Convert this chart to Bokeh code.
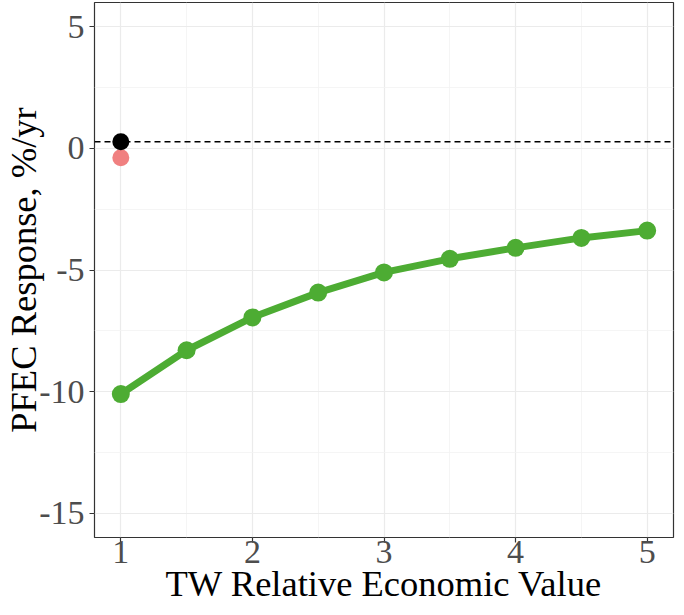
from bokeh.plotting import figure
from bokeh.models import FixedTicker, Span, Range1d
from bokeh.embed import file_html
from bokeh.resources import INLINE

# Data
tw_value = [1, 1.5, 2, 2.5, 3, 3.5, 4, 4.5, 5]
pfec_green = [-10.1, -8.3, -6.95, -5.93, -5.1, -4.54, -4.09, -3.68, -3.38]
black_x = [1]
black_y = [0.27]
pink_x = [1]
pink_y = [-0.38]
ref_line = 0.27
x_ticks = [1, 2, 3, 4, 5]
y_ticks = [-15, -10, -5, 0, 5]
y_tick_labels = {-15: "-15", -10: "-10", -5: "-5", 0: "0", 5: "5"}
x_title = "TW Relative Economic Value"
y_title = "PFEC Response, %/yr"

FONT = "Liberation Serif"

p = figure(width=676, height=615, output_backend="svg", toolbar_location=None,
           x_range=Range1d(0.8, 5.2), y_range=Range1d(-16, 6),
           min_border_left=88, min_border_right=3, min_border_top=2,
           min_border_bottom=78)

p.background_fill_color = "white"
p.border_fill_color = "white"
p.outline_line_color = "#333333"
p.outline_line_width = 1.2

for ax in (p.xaxis[0], p.yaxis[0]):
    ax.axis_line_color = None
    ax.major_tick_line_color = "#333333"
    ax.major_tick_line_width = 1.2
    ax.major_tick_out = 5
    ax.major_tick_in = 0
    ax.minor_tick_line_color = None
    ax.major_label_text_font = FONT
    ax.major_label_text_font_size = "34px"
    ax.major_label_text_color = "#4D4D4D"
    ax.axis_label_text_font = FONT
    ax.axis_label_text_font_size = "36.5px"
    ax.axis_label_text_color = "black"
    ax.axis_label_text_font_style = "normal"

p.xaxis.ticker = FixedTicker(ticks=x_ticks, minor_ticks=[1.5, 2.5, 3.5, 4.5])
p.yaxis.ticker = FixedTicker(ticks=y_ticks, minor_ticks=[-12.5, -7.5, -2.5, 2.5])
p.yaxis.major_label_overrides = y_tick_labels
p.xaxis.axis_label = x_title
p.yaxis.axis_label = y_title
p.xaxis.major_label_standoff = -2
p.yaxis.major_label_standoff = 5
p.xaxis.axis_label_standoff = -3
p.yaxis.axis_label_standoff = -8

p.grid.grid_line_color = "#EBEBEB"
p.grid.grid_line_width = 1.2
p.grid.minor_grid_line_color = "#F2F2F2"
p.grid.minor_grid_line_width = 0.8

p.add_layout(Span(location=ref_line, dimension="width", line_color="black",
                  line_dash="6 4", line_width=1.5))

p.line(tw_value, pfec_green, line_color="#4DAC33", line_width=7)
p.scatter(tw_value, pfec_green, size=18, fill_color="#4DAC33", line_color=None)
p.scatter(pink_x, pink_y, size=17, fill_color="#F08080", line_color=None)
p.scatter(black_x, black_y, size=17, fill_color="black", line_color=None)

open("out.html", "w").write(file_html(p, INLINE))
